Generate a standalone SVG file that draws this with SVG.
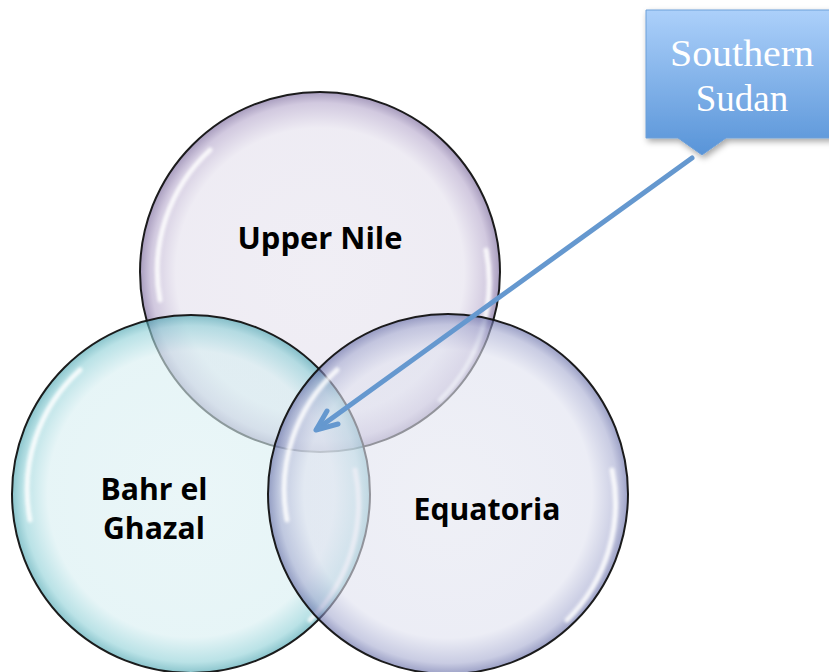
<svg xmlns="http://www.w3.org/2000/svg" width="829" height="672" viewBox="0 0 829 672">
<defs>
<radialGradient id="gUN" cx="0.5" cy="0.5" r="0.5">
<stop offset="0" stop-color="#e6e3ee"/>
<stop offset="0.8" stop-color="#e3dfec"/>
<stop offset="0.94" stop-color="#b3a5ca"/>
<stop offset="1" stop-color="#6d5a92"/>
</radialGradient>
<radialGradient id="gBG" cx="0.5" cy="0.5" r="0.5">
<stop offset="0" stop-color="#dcf0f3"/>
<stop offset="0.8" stop-color="#d6eef1"/>
<stop offset="0.94" stop-color="#8ccfd6"/>
<stop offset="1" stop-color="#3d9eab"/>
</radialGradient>
<radialGradient id="gEQ" cx="0.5" cy="0.5" r="0.5">
<stop offset="0" stop-color="#e4e6f0"/>
<stop offset="0.8" stop-color="#dfe1ef"/>
<stop offset="0.94" stop-color="#a5aad0"/>
<stop offset="1" stop-color="#5a62a0"/>
</radialGradient>
<linearGradient id="gBox" x1="0" y1="0" x2="0" y2="1">
<stop offset="0" stop-color="#acd0fa"/>
<stop offset="1" stop-color="#5894d8"/>
</linearGradient>
<filter id="sh" x="-20%" y="-20%" width="140%" height="140%">
<feDropShadow dx="2" dy="3" stdDeviation="3" flood-color="#000" flood-opacity="0.35"/>
</filter>
<filter id="blur"><feGaussianBlur stdDeviation="1.5"/></filter>
</defs>
<style>
.circ{stroke:#111;stroke-width:2;fill-opacity:0.6;stroke-opacity:0.95}
.hl{fill:none;stroke:#fff;stroke-width:5;stroke-linecap:round;opacity:0.85;filter:url(#blur)}
.lbl{font-family:"Open Sans","Liberation Sans",sans-serif;font-weight:bold;font-size:31px;fill:#000;text-anchor:middle}
.call{font-family:"Liberation Serif","DejaVu Serif",serif;font-size:37px;fill:#fff;text-anchor:middle}
.conn{stroke:#6598cf;stroke-width:5;fill:none;stroke-linecap:round;stroke-linejoin:round}
</style>
<g id="upper-nile">
<circle class="circ" cx="320" cy="272" r="180" fill="url(#gUN)"/>
<path class="hl" d="M160 300 A164 164 0 0 1 210 150"/>
<path class="hl" d="M486 250 A166 166 0 0 1 440 400"/>
<text class="lbl" x="320" y="249" textLength="165" lengthAdjust="spacingAndGlyphs">Upper Nile</text>
</g>
<g id="bahr-el-ghazal">
<circle class="circ" cx="191" cy="494" r="179" fill="url(#gBG)"/>
<path class="hl" d="M30 520 A162 162 0 0 1 80 370"/>
<path class="hl" d="M355 470 A164 164 0 0 1 310 620"/>
<text class="lbl" x="154" y="500" textLength="107" lengthAdjust="spacingAndGlyphs">Bahr el</text>
<text class="lbl" x="154" y="539" textLength="102" lengthAdjust="spacingAndGlyphs">Ghazal</text>
</g>
<g id="equatoria">
<circle class="circ" cx="448" cy="494" r="180" fill="url(#gEQ)"/>
<path class="hl" d="M287 520 A162 162 0 0 1 337 370"/>
<path class="hl" d="M612 470 A164 164 0 0 1 567 620"/>
<text class="lbl" x="487" y="520" textLength="147" lengthAdjust="spacingAndGlyphs">Equatoria</text>
</g>
<g id="southern-sudan">
<path d="M646 10 H840 V138 H726 L702 155 L678 138 H646 Z" fill="url(#gBox)" stroke="#6d9fd8" stroke-width="1" filter="url(#sh)"/>
<text class="call" x="742" y="66" textLength="144" lengthAdjust="spacingAndGlyphs">Southern</text>
<text class="call" x="742" y="111">Sudan</text>
</g>
<g id="connectors">
<line class="conn" x1="692" y1="158" x2="317" y2="429"/>
<polyline class="conn" points="327,411 316,430 338,424"/>
</g>
</svg>
